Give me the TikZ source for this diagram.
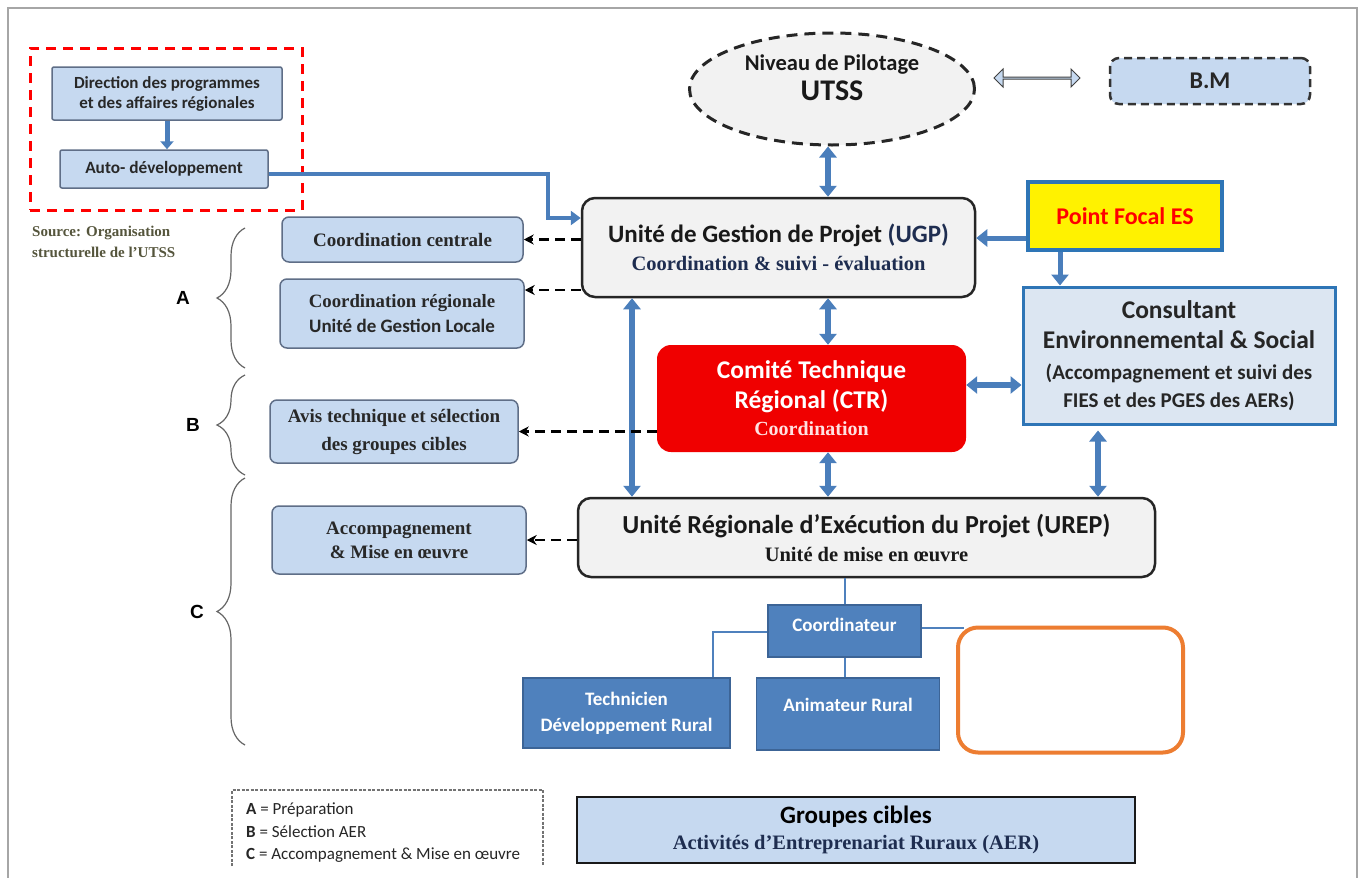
\documentclass[tikz,border=0pt]{standalone}
\usepackage{fontspec}
\setmainfont{Liberation Serif}
\newfontfamily\sansf{Carlito}
\newfontfamily\arialf{Liberation Sans}
\usetikzlibrary{arrows.meta,shapes.geometric,shapes.arrows,decorations.pathreplacing,calc}
\definecolor{lblue}{RGB}{198,217,240}
\definecolor{bordb}{RGB}{95,110,135}
\definecolor{arrb}{RGB}{74,126,187}
\definecolor{boxb}{RGB}{79,129,189}
\definecolor{boxbd}{RGB}{60,100,150}
\definecolor{consf}{RGB}{220,230,242}
\definecolor{consb}{RGB}{46,117,182}
\definecolor{navy}{RGB}{30,45,80}
\definecolor{orng}{RGB}{237,125,49}
\definecolor{gfill}{RGB}{242,242,242}
\definecolor{srcc}{RGB}{85,85,60}
\definecolor{ctrred}{RGB}{240,0,0}
\definecolor{pinkw}{RGB}{255,225,225}
\definecolor{txtd}{RGB}{40,40,40}
\tikzset{
  lbox/.style={draw=bordb, line width=1.5pt, fill=lblue, rounded corners=7pt, align=center, inner sep=0pt, text=txtd},
  gbox/.style={draw=black!85, line width=2.5pt, fill=gfill, rounded corners=13pt, align=center, inner sep=0pt, text=black!90},
  fat/.style={draw=arrb, line width=6pt, {Triangle[length=11pt,width=17pt]}-{Triangle[length=11pt,width=17pt]}},
  fatone/.style={draw=arrb, line width=5pt, -{Triangle[length=11pt,width=17pt]}},
  dasharr/.style={draw=black, line width=2.5pt, dash pattern=on 10pt off 6pt, -{Stealth[length=10pt,width=10pt]}},
  thinb/.style={draw=boxb, line width=2pt},
  bluebox/.style={fill=boxb, draw=boxbd, line width=1.5pt, text=white, align=center, inner sep=0pt, font=\sansf\bfseries\fontsize{19}{23}\selectfont},
  bracest/.style={draw=black!60, line width=1.2pt, decorate, decoration={brace, amplitude=28pt}},
  blab/.style={font=\arialf\bfseries\fontsize{19}{22}\selectfont, text=black}
}
\begin{document}
\begin{tikzpicture}[x=1pt,y=-1pt]
\fill[white] (0,0) rectangle (1363,878);
\useasboundingbox (0,0) rectangle (1363,878);
% page frame
\draw[black!35, line width=1.5pt] (8,878) -- (8,8) -- (1357,8) -- (1357,878);

% red dashed group
\node[draw=red, line width=3pt, dash pattern=on 10pt off 7pt, minimum width=272pt, minimum height=162pt, inner sep=0pt] (redbox) at (166,129) {};
\node[lbox, rounded corners=2pt, minimum width=230pt, minimum height=53pt, font=\sansf\bfseries\fontsize{17}{20}\selectfont] (dir) at (167,93.5) {Direction des programmes\\et des affaires régionales};
\node[lbox, rounded corners=2pt, minimum width=208pt, minimum height=38pt, font=\sansf\bfseries\fontsize{17.3}{20}\selectfont] (auto) at (164,169) {Auto- développement};
\draw[draw=arrb, line width=5pt, -{Triangle[length=8pt,width=13pt]}] (dir.south) -- (dir.south |- auto.north);

\node[anchor=north west, align=left, text=srcc, font=\bfseries\fontsize{15}{21}\selectfont, inner sep=0pt] (src) at (32,226) {Source: Organisation\\structurelle de l’UTSS};

% left boxes
\node[lbox, minimum width=241pt, minimum height=45pt, font=\bfseries\fontsize{19}{22}\selectfont] (cc) at (402.5,239.5) {Coordination centrale};
\node[lbox, minimum width=244pt, minimum height=69pt] (cr) at (402,313.5) {{\bfseries\fontsize{18.8}{22}\selectfont Coordination régionale}\\[7pt]{\sansf\bfseries\fontsize{19}{22}\selectfont Unité de Gestion Locale}};
\node[lbox, minimum width=248pt, minimum height=63pt, font=\bfseries\fontsize{19}{28}\selectfont] (avis) at (394,431.5) {Avis technique et sélection\\des groupes cibles};
\node[lbox, minimum width=254pt, minimum height=68pt, font=\bfseries\fontsize{19}{24}\selectfont] (acc) at (399,540) {Accompagnement\\\& Mise en œuvre};

% braces and labels
\draw[bracest] (245,368) -- (245,228);
\draw[bracest] (245,475) -- (245,375);
\draw[bracest] (245,745) -- (245,478);
\node[blab] (labA) at (183,298) {A};
\node[blab] (labB) at (193,425) {B};
\node[blab] (labC) at (197,612) {C};

% top
\node[ellipse, draw=black!85, line width=3pt, dash pattern=on 11pt off 7pt, fill=gfill, minimum width=285pt, minimum height=112pt, inner sep=0pt, align=center, font=\sansf\bfseries\fontsize{22.5}{26}\selectfont, text=black!90] (pilot) at (832,89) {Niveau de Pilotage\\[4pt]{\fontsize{30}{30}\selectfont UTSS}\\[-4pt]\mbox{}};
\node[double arrow, draw=black!75, line width=1pt, fill=lblue, minimum height=86pt, minimum width=18pt, double arrow head extend=4pt, inner sep=0pt] (bmarr) at (1037,78) {};
\node[draw=black!80, line width=2.5pt, dash pattern=on 8pt off 5pt, fill=lblue, rounded corners=9pt, minimum width=200pt, minimum height=46pt, inner sep=0pt, font=\sansf\bfseries\fontsize{24}{26}\selectfont, text=black!85] (bm) at (1210,81) {B.M};

% main boxes
\node[gbox, minimum width=393pt, minimum height=99pt, font=\sansf\bfseries\fontsize{25}{28}\selectfont] (ugp) at (778.5,247.5) {Unité de Gestion de Projet \textcolor{navy}{(UGP)}\\{\rmfamily\bfseries\fontsize{20.5}{22}\selectfont\color{navy} Coordination \& suivi - évaluation}};
\node[draw=consb, line width=3.5pt, fill=yellow, minimum width=194pt, minimum height=68pt, inner sep=0pt, text=red, font=\sansf\bfseries\fontsize{24}{26}\selectfont] (pf) at (1125,216) {Point Focal ES};
\node[draw=consb, line width=3pt, fill=consf, minimum width=312pt, minimum height=137pt, inner sep=0pt, align=center, text=black!85, font=\sansf\bfseries\fontsize{25.5}{30}\selectfont] (cons) at (1179,355.5) {Consultant\\Environnemental \& Social\\[1pt]{\fontsize{21}{24}\selectfont (Accompagnement et suivi des}\\[-2pt]{\fontsize{21}{24}\selectfont FIES et des PGES des AERs)}};
\node[fill=ctrred, rounded corners=14pt, minimum width=309pt, minimum height=107pt, inner sep=0pt, align=center, text=white, font=\sansf\bfseries\fontsize{25.5}{30}\selectfont] (ctr) at (811.5,398.5) {Comité Technique\\Régional (CTR)\\[-3pt]{\rmfamily\bfseries\fontsize{20}{22}\selectfont\color{pinkw} Coordination}};
\node[gbox, minimum width=577pt, minimum height=79pt, font=\sansf\bfseries\fontsize{26}{28}\selectfont] (urep) at (866.5,537.5) {Unité Régionale d’Exécution du Projet (UREP)\\{\rmfamily\bfseries\fontsize{20.5}{22}\selectfont Unité de mise en œuvre}};

% bottom org chart
\node[bluebox, minimum width=153pt, minimum height=52pt] (coord) at (844.5,631) {Coordinateur\\[-11pt]\mbox{}};
\node[bluebox, minimum width=207pt, minimum height=70pt, font=\sansf\bfseries\fontsize{19}{26}\selectfont] (tech) at (626.5,713) {Technicien\\Développement Rural};
\node[bluebox, minimum width=183pt, minimum height=72pt] (anim) at (848,714) {Animateur Rural\\[-5pt]\mbox{}};
\node[draw=orng, line width=4pt, rounded corners=20pt, minimum width=225pt, minimum height=125pt, inner sep=0pt] (orangebox) at (1070.5,690) {};

% legend
\node[anchor=north west, align=left, inner sep=0pt, text=black!85, font=\sansf\fontsize{17}{22.5}\selectfont] (legend) at (246,803) {\textbf{A} = Préparation\\\textbf{B} = Sélection AER\\\textbf{C} = Accompagnement \& Mise en œuvre};
\draw[black!55, line width=1.2pt, dash pattern=on 3pt off 1.5pt] (232,866) -- (232,790) -- (543,790) -- (543,866);
\node[draw=black!90, line width=2.5pt, fill=lblue, minimum width=558pt, minimum height=66pt, inner sep=0pt, align=center] (groupes) at (856,830) {{\sansf\bfseries\fontsize{25}{26}\selectfont Groupes cibles}\\[7pt]{\rmfamily\bfseries\fontsize{20.5}{22}\selectfont\color{navy} Activités d’Entreprenariat Ruraux (AER)}};

% helper coordinates
\coordinate (xa) at (828,0);
\coordinate (xb) at (632,0);
\coordinate (xc) at (1098,0);
\coordinate (xd) at (1060,0);
\coordinate (ya) at (0,385);
\coordinate (yb) at (0,238);
\coordinate (yc) at (0,290);
\coordinate (k1) at (548,174);
\coordinate (k2) at (548,218);
\coordinate (t1) at (713,632);
\coordinate (t2) at (964,628);

% connectors
\draw[draw=arrb, line width=3.5pt, -{Triangle[length=10pt,width=14pt]}] (auto.east |- k1) -- (k1) -- (k2) -- (k2 -| ugp.west);
\draw[fat] (pilot.south -| xa) -- (ugp.north -| xa);
\draw[fat] (ugp.south -| xa) -- (ctr.north -| xa);
\draw[fat] (ugp.south -| xb) -- (urep.north -| xb);
\draw[fat] (ctr.south -| xa) -- (urep.north -| xa);
\draw[fat] ([yshift=-5pt]cons.south -| xc) -- (urep.north -| xc);
\draw[fat] (ctr.east |- ya) -- (cons.west |- ya);
\draw[fatone] (pf.west |- yb) -- (ugp.east |- yb);
\draw[fatone] (pf.south -| xd) -- (cons.north -| xd);
\draw[dasharr] (ugp.west |- cc.east) -- (cc.east);
\draw[dasharr] (ugp.west |- yc) -- (cr.east |- yc);
\draw[dasharr] (ctr.west |- avis.east) -- (avis.east);
\draw[dasharr] (urep.west |- acc.east) -- (acc.east);
\draw[thinb] (urep.south -| coord.north) -- (coord.north);
\draw[thinb] (coord.west |- t1) -- (t1) -- (t1 |- tech.north);
\draw[thinb] (coord.south) -- (coord.south |- anim.north);
\draw[thinb] (coord.east |- t2) -- (t2);
\end{tikzpicture}
\end{document}
